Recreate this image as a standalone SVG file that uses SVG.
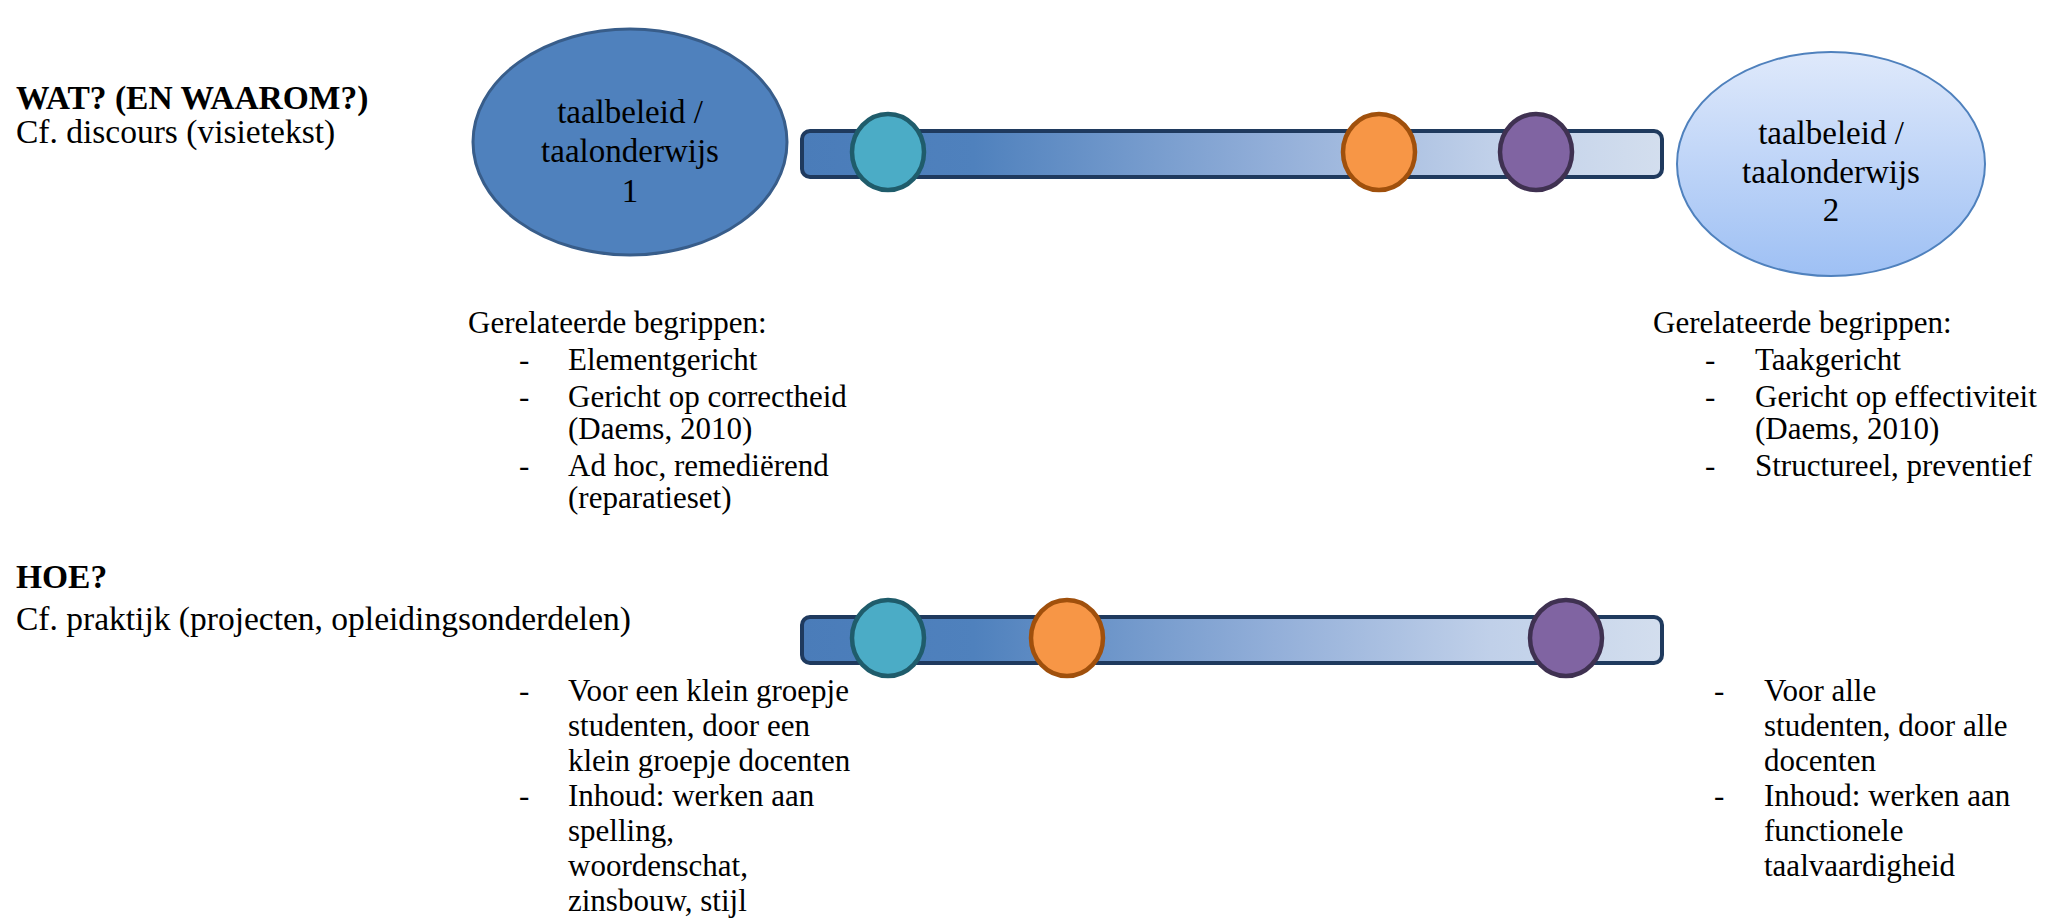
<svg xmlns="http://www.w3.org/2000/svg" width="2058" height="920" viewBox="0 0 2058 920">
  <style>
    text { font-family: "Liberation Serif", "Times New Roman", serif; fill: #000; }
    .head { font-size: 33.5px; }
    .bold { font-weight: bold; }
    .oval { font-size: 33px; text-anchor: middle; }
    .body { font-size: 31px; }
    .bar { fill: url(#barFill); stroke: #1f3a5e; stroke-width: 4; }
    .teal { fill: #4bacc6; stroke: #1f5c6b; stroke-width: 4.5; }
    .orange { fill: #f79646; stroke: #a0500c; stroke-width: 4.5; }
    .purple { fill: #8064a2; stroke: #3f3151; stroke-width: 4.5; }
  </style>
  <defs>
    <linearGradient id="barFill" x1="0" y1="0" x2="1" y2="0">
      <stop offset="0" stop-color="#4a7cb9"/>
      <stop offset="0.2" stop-color="#4f81bd"/>
      <stop offset="0.55" stop-color="#93afd9"/>
      <stop offset="0.8" stop-color="#c0d0e9"/>
      <stop offset="1" stop-color="#d3deee"/>
    </linearGradient>
    <linearGradient id="oval2Fill" x1="0" y1="0" x2="0" y2="1">
      <stop offset="0" stop-color="#dfe9fb"/>
      <stop offset="1" stop-color="#9ec0f4"/>
    </linearGradient>
  </defs>

  <rect width="2058" height="920" fill="#ffffff"/>

  <!-- Section headings -->
  <g id="heading-wat">
    <text class="head bold" x="16" y="109">WAT? (EN WAAROM?)</text>
    <text class="head" x="16" y="143">Cf. discours (visietekst)</text>
  </g>
  <g id="heading-hoe">
    <text class="head bold" x="16" y="588">HOE?</text>
    <text class="head" x="16" y="630">Cf. praktijk (projecten, opleidingsonderdelen)</text>
  </g>

  <!-- End points of the continuum -->
  <g id="oval-1">
    <ellipse cx="630" cy="142" rx="157" ry="113" fill="#4f81bd" stroke="#385d8a" stroke-width="3"/>
    <text class="oval" x="630" y="123">taalbeleid /</text>
    <text class="oval" x="630" y="162">taalonderwijs</text>
    <text class="oval" x="630" y="202">1</text>
  </g>
  <g id="oval-2">
    <ellipse cx="1831" cy="164" rx="154" ry="112" fill="url(#oval2Fill)" stroke="#4f81bd" stroke-width="2"/>
    <text class="oval" x="1831" y="144">taalbeleid /</text>
    <text class="oval" x="1831" y="183">taalonderwijs</text>
    <text class="oval" x="1831" y="221">2</text>
  </g>

  <!-- Upper scale bar with markers -->
  <g id="scale-wat">
    <rect class="bar" x="802" y="131" width="860" height="46" rx="8"/>
    <ellipse class="teal" cx="888" cy="152" rx="36" ry="38"/>
    <ellipse class="orange" cx="1379" cy="152" rx="36" ry="38"/>
    <ellipse class="purple" cx="1536" cy="152" rx="36" ry="38"/>
  </g>

  <!-- Lower scale bar with markers -->
  <g id="scale-hoe">
    <rect class="bar" x="802" y="617" width="860" height="46" rx="8"/>
    <ellipse class="teal" cx="888" cy="638" rx="36" ry="38"/>
    <ellipse class="orange" cx="1067" cy="638" rx="36" ry="38"/>
    <ellipse class="purple" cx="1566" cy="638" rx="36" ry="38"/>
  </g>

  <!-- Related concepts, left -->
  <g id="concepts-1">
    <text class="body" x="468" y="333">Gerelateerde begrippen:</text>
    <text class="body" x="519" y="370">-</text>
    <text class="body" x="568" y="370">Elementgericht</text>
    <text class="body" x="519" y="407">-</text>
    <text class="body" x="568" y="407">Gericht op correctheid</text>
    <text class="body" x="568" y="439">(Daems, 2010)</text>
    <text class="body" x="519" y="476">-</text>
    <text class="body" x="568" y="476">Ad hoc, remediërend</text>
    <text class="body" x="568" y="508">(reparatieset)</text>
  </g>

  <!-- Related concepts, right -->
  <g id="concepts-2">
    <text class="body" x="1653" y="333">Gerelateerde begrippen:</text>
    <text class="body" x="1705" y="370">-</text>
    <text class="body" x="1755" y="370">Taakgericht</text>
    <text class="body" x="1705" y="407">-</text>
    <text class="body" x="1755" y="407">Gericht op effectiviteit</text>
    <text class="body" x="1755" y="439">(Daems, 2010)</text>
    <text class="body" x="1705" y="476">-</text>
    <text class="body" x="1755" y="476">Structureel, preventief</text>
  </g>

  <!-- Practice, left -->
  <g id="practice-1">
    <text class="body" x="519" y="701">-</text>
    <text class="body" x="568" y="701">Voor een klein groepje</text>
    <text class="body" x="568" y="736">studenten, door een</text>
    <text class="body" x="568" y="771">klein groepje docenten</text>
    <text class="body" x="519" y="806">-</text>
    <text class="body" x="568" y="806">Inhoud: werken aan</text>
    <text class="body" x="568" y="841">spelling,</text>
    <text class="body" x="568" y="876">woordenschat,</text>
    <text class="body" x="568" y="911">zinsbouw, stijl</text>
  </g>

  <!-- Practice, right -->
  <g id="practice-2">
    <text class="body" x="1714" y="701">-</text>
    <text class="body" x="1764" y="701">Voor alle</text>
    <text class="body" x="1764" y="736">studenten, door alle</text>
    <text class="body" x="1764" y="771">docenten</text>
    <text class="body" x="1714" y="806">-</text>
    <text class="body" x="1764" y="806">Inhoud: werken aan</text>
    <text class="body" x="1764" y="841">functionele</text>
    <text class="body" x="1764" y="876">taalvaardigheid</text>
  </g>
</svg>
